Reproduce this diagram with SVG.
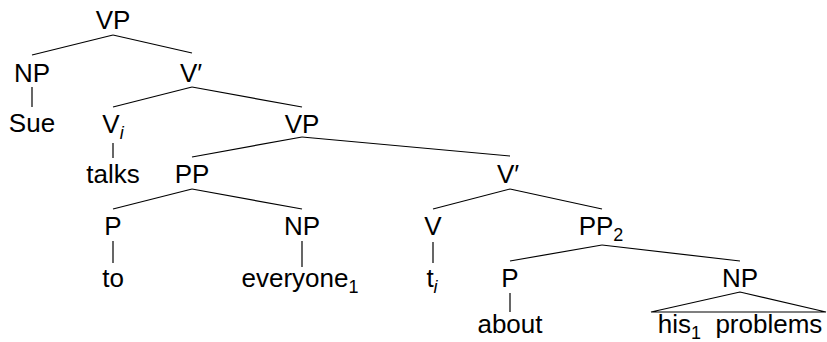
<svg xmlns="http://www.w3.org/2000/svg" width="827" height="342" viewBox="0 0 827 342">
<style>
text{font-family:"Liberation Sans",Arial,sans-serif;font-size:26px;fill:#000;text-anchor:middle}
.sub{font-size:18px}
.it{font-style:italic}
#edges line,#edges polygon{stroke:#000;stroke-width:1.2;fill:none}
</style>
<rect width="827" height="342" fill="#fff"/>
<g id="edges">
<line x1="113" y1="35" x2="32" y2="55"/>
<line x1="113" y1="35" x2="192" y2="53"/>
<line x1="32" y1="87" x2="32" y2="107"/>
<line x1="192" y1="87" x2="113" y2="107"/>
<line x1="192" y1="87" x2="302" y2="107"/>
<line x1="113" y1="143" x2="113" y2="158"/>
<line x1="302" y1="137" x2="192" y2="157"/>
<line x1="302" y1="137" x2="510" y2="156"/>
<line x1="192" y1="189" x2="113" y2="209"/>
<line x1="192" y1="189" x2="302" y2="209"/>
<line x1="510" y1="189" x2="433" y2="209"/>
<line x1="510" y1="189" x2="602" y2="209"/>
<line x1="113" y1="241" x2="113" y2="263"/>
<line x1="302" y1="241" x2="302" y2="267"/>
<line x1="433" y1="242" x2="433" y2="263"/>
<line x1="602" y1="245" x2="510" y2="261"/>
<line x1="602" y1="245" x2="740" y2="261"/>
<line x1="510" y1="293" x2="510" y2="312"/>
<polygon points="740,292 651,312 826,312"/>
</g>
<g id="n-vp1"><text x="113" y="29">VP</text></g>
<g id="n-np1"><text x="32" y="82">NP</text></g>
<g id="n-vbar1"><text x="191" y="82">V′</text></g>
<g id="n-sue"><text x="32" y="132">Sue</text></g>
<g id="n-vi"><text x="113" y="133">V<tspan class="sub it" dy="6">i</tspan></text></g>
<g id="n-vp2"><text x="302" y="133">VP</text></g>
<g id="n-talks"><text x="113" y="183">talks</text></g>
<g id="n-pp1"><text x="192" y="183">PP</text></g>
<g id="n-vbar2"><text x="508" y="183">V′</text></g>
<g id="n-p1"><text x="113" y="235">P</text></g>
<g id="n-np2"><text x="302" y="235">NP</text></g>
<g id="n-v"><text x="433" y="235">V</text></g>
<g id="n-pp2"><text x="601" y="235">PP<tspan class="sub" dy="6">2</tspan></text></g>
<g id="n-to"><text x="113" y="287">to</text></g>
<g id="n-everyone"><text x="300" y="287">everyone<tspan class="sub" dy="6">1</tspan></text></g>
<g id="n-ti"><text x="432" y="287">t<tspan class="sub it" dy="6">i</tspan></text></g>
<g id="n-p2"><text x="510" y="287">P</text></g>
<g id="n-np3"><text x="740" y="287">NP</text></g>
<g id="n-about"><text x="510" y="333">about</text></g>
<g id="n-his"><text x="740" y="333">his<tspan class="sub" dy="6">1</tspan><tspan dy="-6" xml:space="preserve">  problems</tspan></text></g>
</svg>
